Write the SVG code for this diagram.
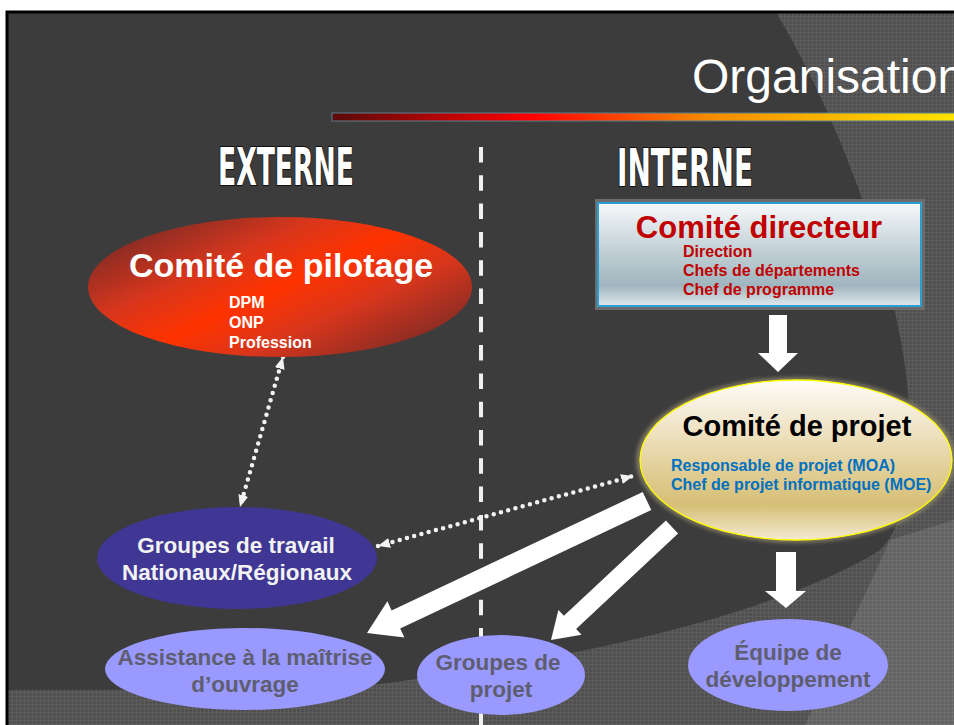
<svg xmlns="http://www.w3.org/2000/svg" width="954" height="725" viewBox="0 0 954 725">
<defs>
<pattern id="tex" width="4" height="4" patternUnits="userSpaceOnUse"><rect width="4" height="4" fill="#505050"/><path d="M0 0.5H4M0.5 0V4" stroke="#5d5d5d" stroke-width="1"/></pattern>
<pattern id="tex2" width="4" height="4" patternUnits="userSpaceOnUse"><rect width="4" height="4" fill="#626262"/><path d="M0 0.5H4M0.5 0V4" stroke="#6f6f6f" stroke-width="1"/></pattern>
<linearGradient id="bar" x1="0" y1="0" x2="1" y2="0"><stop offset="0" stop-color="#5a0a0a"/><stop offset="0.32" stop-color="#ff0000"/><stop offset="0.6" stop-color="#f58a00"/><stop offset="1" stop-color="#ffe400"/></linearGradient>
<linearGradient id="red" gradientUnits="userSpaceOnUse" x1="229" y1="178" x2="331" y2="396"><stop offset="0" stop-color="#7a2a26"/><stop offset="0.3" stop-color="#d8361c"/><stop offset="0.5" stop-color="#ff3300"/><stop offset="0.7" stop-color="#d8361c"/><stop offset="1" stop-color="#7a2a26"/></linearGradient>
<linearGradient id="dir" x1="0" y1="0" x2="0" y2="1"><stop offset="0" stop-color="#f7f9fa"/><stop offset="0.45" stop-color="#c3d1d7"/><stop offset="0.8" stop-color="#9fb5be"/><stop offset="1" stop-color="#dfe8ec"/></linearGradient>
<linearGradient id="proj" x1="0" y1="0" x2="0" y2="1"><stop offset="0" stop-color="#fefcf7"/><stop offset="0.2" stop-color="#f4ecd8"/><stop offset="0.55" stop-color="#e2cf98"/><stop offset="0.78" stop-color="#d6bf76"/><stop offset="1" stop-color="#f3ead2"/></linearGradient>
<filter id="glow" x="-10%" y="-10%" width="120%" height="120%"><feGaussianBlur stdDeviation="2"/></filter>
<marker id="ah" viewBox="0 0 12 10" refX="12" refY="5" markerWidth="12" markerHeight="10" markerUnits="userSpaceOnUse" orient="auto-start-reverse"><path d="M0 0L12 5L0 10z" fill="#f2f2f2"/></marker>
<style>
.t{font-family:"Liberation Sans",Arial,sans-serif;font-weight:bold}
.lt{fill:#5e5e70;font-size:22.5px;text-anchor:middle}
.hd{font-family:"DejaVu Sans Condensed","DejaVu Sans",sans-serif;font-weight:bold;font-size:51px;fill:#ffffff;stroke:#111;stroke-width:2;paint-order:stroke}
.dot{fill:none;stroke:#f2f2f2;stroke-width:4.5;stroke-linecap:round;stroke-dasharray:0 7.5}
.blk{fill:#ffffff}
.sm{font-size:16px}
</style>
</defs>
<rect width="954" height="725" fill="#ffffff"/>
<g id="background">
<rect x="8" y="12" width="946" height="713" fill="url(#tex)"/>
<path d="M954 520L954 725L805 725L890 540Z" fill="url(#tex2)"/>
<path d="M8 12L776 12C840 120 905 290 910 420C912 490 900 530 880 550C800 600 640 650 380 684C250 690 100 690 8 690Z" fill="#3c3c3c"/>
<path d="M7 725V12H954" fill="none" stroke="#000" stroke-width="3"/>
<rect x="332" y="113" width="624" height="8" fill="url(#bar)" stroke="#5b7f8e" stroke-width="1"/>
<text x="692" y="93" font-family="'Liberation Sans',Arial,sans-serif" font-size="48" fill="#ffffff">Organisation</text>
<path d="M481 147V725" stroke="#f0f0f0" stroke-width="4" stroke-dasharray="15.5 12.8"/>
<text class="hd" x="218" y="185" textLength="136" lengthAdjust="spacingAndGlyphs">EXTERNE</text>
<text class="hd" x="617" y="186" textLength="136" lengthAdjust="spacingAndGlyphs">INTERNE</text>
</g>
<g id="connectors">
<path class="dot" d="M283 357L240 507" marker-start="url(#ah)" marker-end="url(#ah)"/>
<path class="dot" d="M378 546L633 476" marker-start="url(#ah)" marker-end="url(#ah)"/>
<polygon class="blk" points="769,315 787,315 787,353 798,353 778,372 758,353 769,353"/>
<polygon class="blk" points="642.7,492 391.6,610.4 387.4,601.3 367,633 404.4,637.5 400.2,628.4 651.3,510"/>
<polygon class="blk" points="665.9,520.4 563.9,615.7 558.4,609.9 551,640 581.6,634.7 576.1,628.9 678.1,533.6"/>
<polygon class="blk" points="776,552 796,552 796,591 806,591 786,608 765,591 776,591"/>
</g>
<g id="pilotage">
<ellipse cx="280" cy="287" rx="192" ry="70" fill="url(#red)"/>
<text class="t" x="281" y="277" font-size="34" fill="#fff" text-anchor="middle">Comité de pilotage</text>
<text class="t sm" x="229" y="308" fill="#fff">DPM</text>
<text class="t sm" x="229" y="328" fill="#fff">ONP</text>
<text class="t sm" x="229" y="348" fill="#fff">Profession</text>
</g>
<g id="directeur">
<rect x="595" y="199" width="330" height="111" fill="#6c6c6c"/>
<rect x="598" y="203" width="323" height="103" fill="url(#dir)" stroke="#2a9fd0" stroke-width="2"/>
<text class="t" x="759" y="238" font-size="31" fill="#c00000" text-anchor="middle">Comité directeur</text>
<text class="t sm" x="683" y="257" fill="#c00000">Direction</text>
<text class="t sm" x="683" y="276" fill="#c00000">Chefs de départements</text>
<text class="t sm" x="683" y="295" fill="#c00000">Chef de programme</text>
</g>
<g id="projet">
<ellipse cx="796" cy="460" rx="157" ry="80" fill="none" stroke="#8c8468" stroke-width="5" filter="url(#glow)"/>
<ellipse cx="796" cy="460" rx="156" ry="80" fill="url(#proj)" stroke="#ffff00" stroke-width="1.3"/>
<text class="t" x="797" y="436" font-size="29" fill="#000" text-anchor="middle">Comité de projet</text>
<text class="t sm" x="671" y="471" fill="#0070c0">Responsable de projet (MOA)</text>
<text class="t sm" x="671" y="490" fill="#0070c0">Chef de projet informatique (MOE)</text>
</g>
<g id="travail">
<ellipse cx="237" cy="558" rx="140" ry="51" fill="#3f3793"/>
<text class="t" x="236" y="553" font-size="22.5" fill="#f2f2f2" text-anchor="middle">Groupes de travail</text>
<text class="t" x="237" y="580" font-size="22.5" fill="#f2f2f2" text-anchor="middle">Nationaux/Régionaux</text>
</g>
<g id="assistance">
<ellipse cx="245" cy="669" rx="140" ry="41" fill="#9999ff"/>
<text class="t lt" x="245" y="665">Assistance à la maîtrise</text>
<text class="t lt" x="245" y="692">d’ouvrage</text>
</g>
<g id="groupes-projet">
<ellipse cx="501" cy="675" rx="84" ry="40" fill="#9999ff"/>
<text class="t lt" x="498" y="670">Groupes de</text>
<text class="t lt" x="501" y="697">projet</text>
</g>
<g id="equipe">
<ellipse cx="788" cy="665" rx="100" ry="46" fill="#9999ff"/>
<text class="t lt" x="788" y="660">Équipe de</text>
<text class="t lt" x="788" y="687">développement</text>
</g>
</svg>
